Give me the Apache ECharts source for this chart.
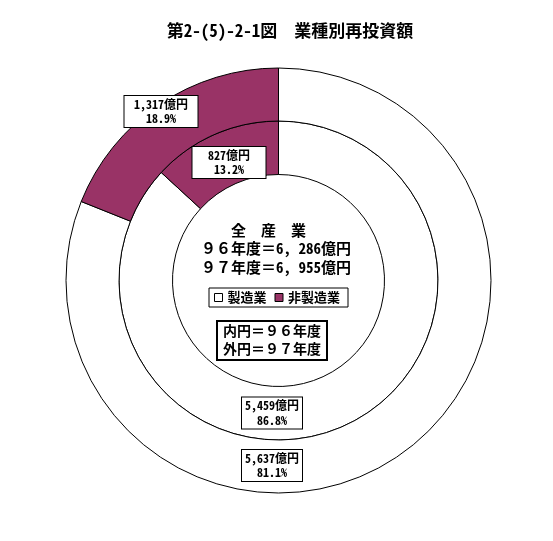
<!DOCTYPE html>
<html>
<head>
<meta charset="utf-8">
<script src="https://cdn.jsdelivr.net/npm/echarts@6/dist/echarts.min.js"></script>
<style>
  html, body { margin: 0; padding: 0; background: #fff; }
  #chart { width: 553px; height: 541px; }
</style>
</head>
<body>
<div id="chart"></div>
<script>
var categories = ['製造業', '非製造業'];
var inner96 = [5459, 827];
var outer97 = [5637, 1317];
var yearNames = ['９６', '９７'];
var yearTotals = [6286, 6955];

var FONT = '"Noto Sans Mono CJK JP", "Noto Sans CJK JP", sans-serif';
var colors = ['#ffffff', '#993366'];

// label box centres and widths, per data item
var innerLabelPos = [[272, 413, 62], [229, 162.5, 75]];
var outerLabelPos = [[272, 465.5, 62], [161, 111.5, 75]];

function fmt(n) {
    return n.toLocaleString('en-US');
}

function toPieData(values, pos) {
    var out = [];
    for (var i = 0; i < values.length; i++) {
        out.push({
            name: categories[i],
            value: values[i],
            itemStyle: { color: colors[i] },
            label: { width: pos[i][2] - 2 }
        });
    }
    return out;
}

function makeRing(name, values, pos, radius) {
    return {
        name: name,
        type: 'pie',
        center: [278.5, 280.5],
        radius: radius,
        startAngle: 90,
        clockwise: true,
        percentPrecision: 1,
        animation: false,
        silent: true,
        itemStyle: { borderColor: '#000', borderWidth: 1 },
        emphasis: { disabled: true },
        labelLine: { show: false },
        label: {
            show: true,
            position: 'inside',
            formatter: function (p) {
                return fmt(p.value) + '億円\n' + p.percent.toFixed(1) + '%';
            },
            color: '#000',
            fontFamily: FONT,
            fontWeight: 'bold',
            fontSize: 12,
            lineHeight: 14.5,
            align: 'center',
            backgroundColor: '#fff',
            borderColor: '#000',
            borderWidth: 1,
            padding: [1, 0, 1, 0]
        },
        labelLayout: function (p) {
            var q = pos[p.dataIndex];
            return { x: q[0], y: q[1], align: 'center', verticalAlign: 'middle' };
        },
        data: toPieData(values, pos)
    };
}

var centerLines = [
    '全　産　業',
    yearNames[0] + '年度＝' + fmt(yearTotals[0]).replace(',', ', ') + '億円',
    yearNames[1] + '年度＝' + fmt(yearTotals[1]).replace(',', ', ') + '億円'
];

var chart = echarts.init(document.getElementById('chart'));
var option = {
    backgroundColor: '#fff',
    animation: false,
    legend: {
        left: 209,
        top: 288,
        orient: 'horizontal',
        selectedMode: false,
        borderColor: '#000',
        borderWidth: 1,
        borderRadius: 0,
        padding: [3, 8, 3, 5],
        itemWidth: 8,
        itemHeight: 8,
        itemGap: 8,
        icon: 'rect',
        textStyle: { fontFamily: FONT, fontWeight: 'bold', fontSize: 13, color: '#000' },
        data: [
            { name: categories[0], itemStyle: { color: colors[0], borderColor: '#000', borderWidth: 1 } },
            { name: categories[1], itemStyle: { color: colors[1], borderColor: '#000', borderWidth: 1 } }
        ]
    },
    graphic: [
        {
            type: 'text', x: 290, y: 31,
            style: {
                text: '第2-(5)-2-1図　業種別再投資額',
                fontFamily: FONT, fontWeight: 'bold', fontSize: 17,
                fill: '#000', align: 'center', verticalAlign: 'middle'
            }
        },
        {
            type: 'text', x: 268.5, y: 230,
            style: {
                text: centerLines[0], fontFamily: FONT, fontWeight: 'bold', fontSize: 15,
                fill: '#000', align: 'center', verticalAlign: 'middle'
            }
        },
        {
            type: 'text', x: 276, y: 248.5,
            style: {
                text: centerLines[1], fontFamily: FONT, fontWeight: 'bold', fontSize: 15,
                fill: '#000', align: 'center', verticalAlign: 'middle'
            }
        },
        {
            type: 'text', x: 276, y: 267,
            style: {
                text: centerLines[2], fontFamily: FONT, fontWeight: 'bold', fontSize: 15,
                fill: '#000', align: 'center', verticalAlign: 'middle'
            }
        },
        {
            type: 'rect',
            shape: { x: 217, y: 321, width: 110, height: 39 },
            style: { fill: '#fff', stroke: '#000', lineWidth: 2 }
        },
        {
            type: 'text', x: 272, y: 339.5,
            style: {
                text: '内円＝' + yearNames[0] + '年度\n外円＝' + yearNames[1] + '年度',
                fontFamily: FONT, fontWeight: 'bold', fontSize: 14, lineHeight: 17.5,
                fill: '#000', align: 'center', verticalAlign: 'middle'
            }
        }
    ],
    series: [
        makeRing('96年度', inner96, innerLabelPos, [106, 159.5]),
        makeRing('97年度', outer97, outerLabelPos, [159.5, 212.5])
    ]
};
chart.setOption(option);
</script>
</body>
</html>
